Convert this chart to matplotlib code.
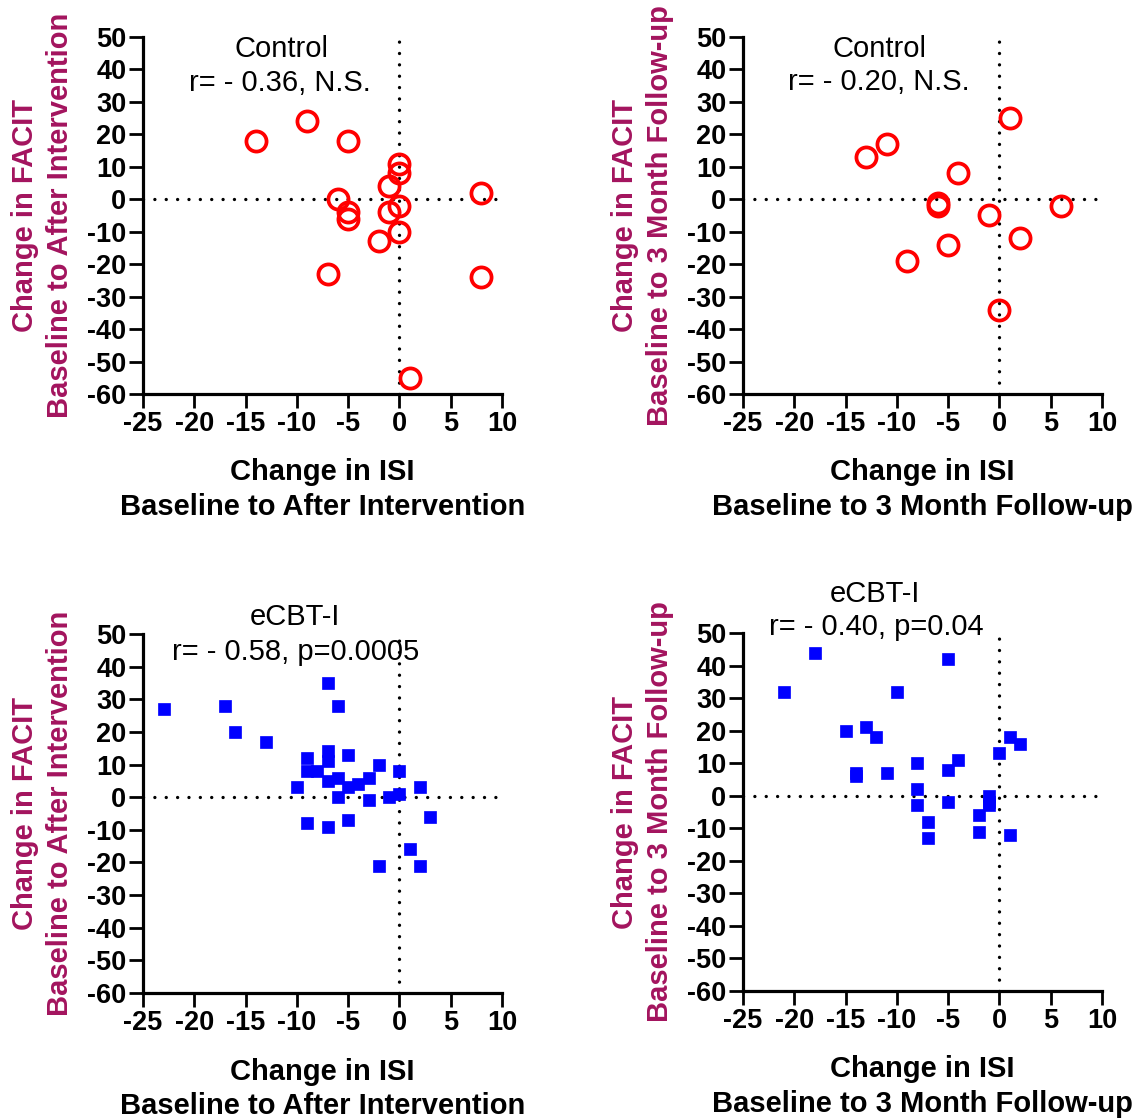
import matplotlib
matplotlib.use("Agg")
import matplotlib.pyplot as plt

plt.rcParams['font.family'] = ['Liberation Sans', 'DejaVu Sans']
plt.rcParams['axes.unicode_minus'] = False

# Control, baseline -> after intervention
ctrl_post_isi = [-14, -9, -5, 0, 0, -1, 8, -6, -5, -5, -1, 0, 0, -2, -7, 8, 1]
ctrl_post_facit = [18, 24, 18, 11, 8, 4, 2, 0, -4, -6, -4, -2, -10, -13, -23, -24, -55]

# Control, baseline -> 3 month follow-up
ctrl_fu_isi = [1, -11, -13, -4, -6, -6, 6, -1, 2, -5, -9, 0]
ctrl_fu_facit = [25, 17, 13, 8, -1, -2, -2, -5, -12, -14, -19, -34]

# eCBT-I, baseline -> after intervention
ecbt_post_isi = [-23, -17, -16, -13, -7, -6, -9, -7, -7, -5, -9, -8, -7, -6, -10, -5,
                 -4, -3, -2, 0, 0, -1, -6, -3, 2, 3, -9, -7, -5, 1, 2, -2]
ecbt_post_facit = [27, 28, 20, 17, 35, 28, 12, 14, 11, 13, 8, 8, 5, 6, 3, 3,
                   4, 6, 10, 8, 1, 0, 0, -1, 3, -6, -8, -9, -7, -16, -21, -21]

# eCBT-I, baseline -> 3 month follow-up
ecbt_fu_isi = [-18, -21, -5, -10, -15, -13, -12, -14, -14, -11, -8, -8, -8, -7, -7,
               -5, -4, -5, -1, -1, -1, -2, -2, 0, 1, 2, 1]
ecbt_fu_facit = [44, 32, 42, 32, 20, 21, 18, 7, 6, 7, 10, 2, -3, -8, -13,
                 8, 11, -2, 0, -2, -3, -6, -11, 13, 18, 16, -12]

XTICKS = [-25, -20, -15, -10, -5, 0, 5, 10]
YTICKS = [50, 40, 30, 20, 10, 0, -10, -20, -30, -40, -50, -60]

YLAB_COLOR = '#A3145E'
W, H = 1142, 1118


def px_rect(left, top, right, bottom):
    return [left / W, 1 - bottom / H, (right - left) / W, (bottom - top) / H]


def make_panel(fig, rect, xs, ys, kind, period, title, stat, tpos, spos):
    ax = fig.add_axes(px_rect(*rect))
    dots = (0, (0.01, 3.4))
    ax.axhline(0, color='black', lw=2.4, ls=dots, dash_capstyle='round', zorder=1)
    ax.axvline(0, color='black', lw=2.4, ls=dots, dash_capstyle='round', zorder=1)
    if kind == 'circle':
        ax.plot(xs, ys, 'o', ms=14.5, mfc='none', mec='#FF0000', mew=2.7, zorder=3, clip_on=False)
    else:
        ax.plot(xs, ys, 's', ms=9.2, mfc='#0000FF', mec='#0000FF', mew=0.5, zorder=3, clip_on=False)
    ax.set_xlim(-25, 10)
    ax.set_ylim(-60, 50)
    ax.set_xticks(XTICKS)
    ax.set_yticks(YTICKS)
    ax.spines['top'].set_visible(False)
    ax.spines['right'].set_visible(False)
    for s in ['left', 'bottom']:
        ax.spines[s].set_linewidth(2.3)
    ax.tick_params(direction='out', length=10, width=2.0, labelsize=19.5, pad=2)
    for lab in ax.get_xticklabels() + ax.get_yticklabels():
        lab.set_fontweight('bold')
    ax.set_xlabel('Change in ISI\nBaseline to ' + period, fontsize=21, fontweight='bold',
                  linespacing=1.3, va='top')
    ax.xaxis.set_label_coords(0.5, -0.18)
    ax.set_ylabel('Change in FACIT\nBaseline to ' + period, fontsize=21, fontweight='bold',
                  color=YLAB_COLOR, linespacing=1.3, va='center')
    ax.yaxis.set_label_coords(-0.28, 0.5)
    fig.text(tpos[0] / W, 1 - tpos[1] / H, title, fontsize=21, ha='center', va='baseline')
    fig.text(spos[0] / W, 1 - spos[1] / H, stat, fontsize=21, ha='center', va='baseline')
    return ax


fig = plt.figure(figsize=(W / 100, H / 100), dpi=100)

make_panel(fig, (143, 37, 502, 394), ctrl_post_isi, ctrl_post_facit, 'circle',
           'After Intervention', 'Control', 'r= - 0.36, N.S.', (281, 57), (280, 91))
make_panel(fig, (743, 37, 1102, 394), ctrl_fu_isi, ctrl_fu_facit, 'circle',
           '3 Month Follow-up', 'Control', 'r= - 0.20, N.S.', (880, 57), (879, 90))
make_panel(fig, (143, 634, 502, 993), ecbt_post_isi, ecbt_post_facit, 'square',
           'After Intervention', 'eCBT-I', 'r= - 0.58, p=0.0005', (295, 625), (296, 660))
make_panel(fig, (743, 633, 1102, 991), ecbt_fu_isi, ecbt_fu_facit, 'square',
           '3 Month Follow-up', 'eCBT-I', 'r= - 0.40, p=0.04', (875, 602), (876, 635))

fig.savefig('out.png', dpi=100)
